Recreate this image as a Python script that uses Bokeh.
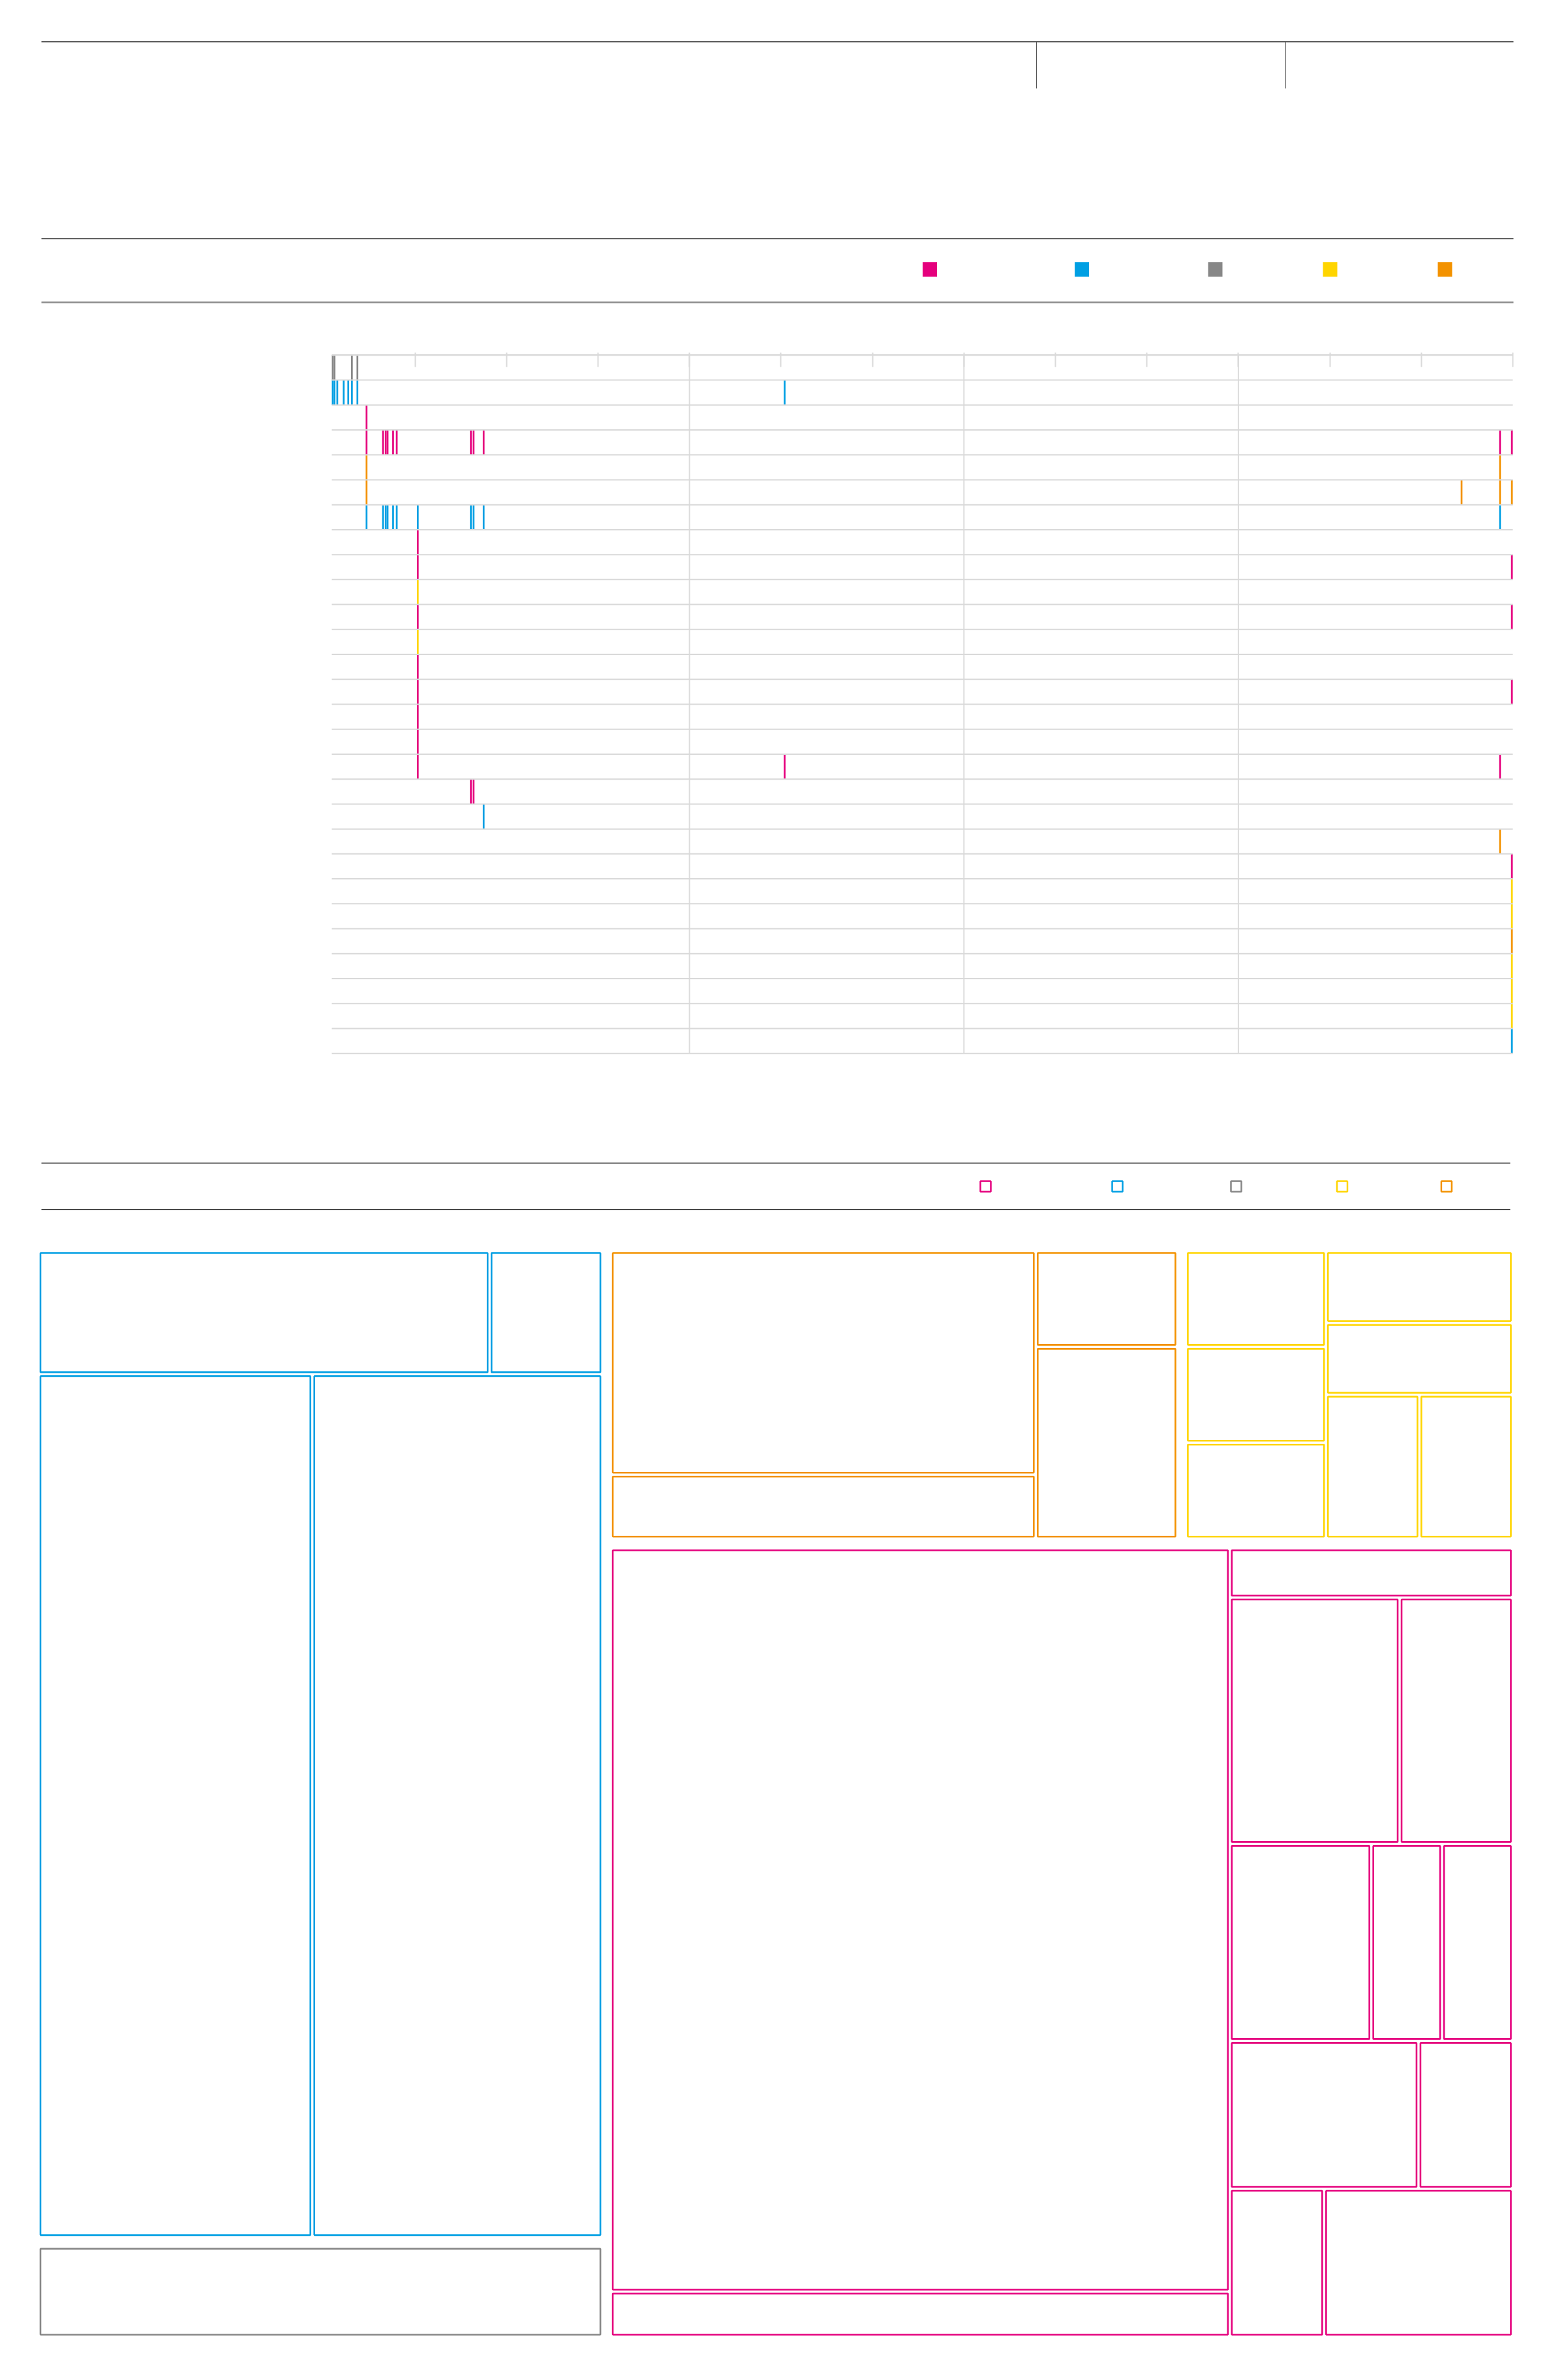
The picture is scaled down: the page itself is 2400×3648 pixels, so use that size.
from bokeh.plotting import figure
from bokeh.models import Range1d, LinearAxis, FixedTicker, ColumnDataSource
from bokeh.layouts import column
from bokeh.embed import file_html
from bokeh.resources import INLINE

# ---------------- data ----------------
categories = ["magenta", "blue", "grey", "yellow", "orange"]
category_colors = ["#E5007D", "#009FE3", "#878787", "#FFD500", "#F39200"]

# timeline: one entry per row (top to bottom), category + event years
row_category = [
    "grey", "blue", "magenta", "magenta", "orange", "orange", "blue",
    "magenta", "magenta", "yellow", "magenta", "yellow", "magenta", "magenta",
    "magenta", "magenta", "magenta", "magenta", "blue", "orange", "magenta",
    "yellow", "yellow", "orange", "yellow", "yellow", "yellow", "blue",
]
row_events = [
    [1891.0, 1891.2, 1893.1, 1893.7],
    [1891.0, 1891.2, 1891.5, 1892.2, 1892.7, 1893.1, 1893.7, 1940.4],
    [1894.7],
    [1894.7, 1896.5, 1896.8, 1897.0, 1897.6, 1898.0, 1906.1, 1906.4, 1907.5, 2018.6, 2019.9],
    [1894.7, 2018.6],
    [1894.7, 2014.4, 2018.6, 2019.9],
    [1894.7, 1896.5, 1896.8, 1897.0, 1897.6, 1898.0, 1900.3, 1906.1, 1906.4, 1907.5, 2018.6],
    [1900.3],
    [1900.3, 2019.9],
    [1900.3],
    [1900.3, 2019.9],
    [1900.3],
    [1900.3],
    [1900.3, 2019.9],
    [1900.3],
    [1900.3],
    [1900.3, 1940.4, 2018.6],
    [1906.1, 1906.4],
    [1907.5],
    [2018.6],
    [2019.9],
    [2019.9],
    [2019.9],
    [2019.9],
    [2019.9],
    [2019.9],
    [2019.9],
    [2019.9],
]
year_start, year_end = 1890.9, 2020
tick_years = [1900, 1910, 1920, 1930, 1940, 1950, 1960, 1970, 1980, 1990, 2000, 2010, 2020]
grid_years = [1930, 1960, 1990]

# treemap leaf values per category
blue_values = [4, 1, 17, 18]
grey_values = [4]
orange_values = [7, 2, 1, 2]
yellow_values = [1, 1, 1, 1, 1, 1, 1]
magenta_values = [33, 2, 1, 3, 2, 2, 1, 1, 2, 1, 1, 2]

color_of = dict(zip(categories, category_colors))

# ---------------- layout constants (page pixels) ----------------
W = 2400
TL_LEFT, TL_RIGHT = 508, 2318        # timeline plot area, horizontally
ROW_PAD = 0.1                         # extra rows above/below so edge lines are not clipped


def blank_fig(height, y_top, y_bottom):
    p = figure(width=W, height=height, x_range=Range1d(0, W), y_range=Range1d(y_bottom, y_top),
               x_axis_type=None, y_axis_type=None, toolbar_location=None,
               output_backend="svg", min_border=0, outline_line_color=None)
    p.background_fill_color = "white"
    p.border_fill_color = "white"
    return p


# ---------------- header / legend ----------------
p1 = blank_fig(500, 0, 500)
p1.segment(x0=[63], y0=[63.5], x1=[2319], y1=[63.5], line_color="#5a5a5a", line_width=1.8)
p1.segment(x0=[1588, 1970], y0=[64, 64], x1=[1588, 1970], y1=[135, 135], line_color="#555555", line_width=1)
p1.segment(x0=[63], y0=[365.3], x1=[2319], y1=[365.3], line_color="#555555", line_width=1.5)
p1.segment(x0=[63], y0=[463], x1=[2319], y1=[463], line_color="#8c8c8c", line_width=2.5)
legend_x = [1424.5, 1657.6, 1862, 2038, 2214]
p1.scatter(x=legend_x, y=[412.5] * len(categories), marker="square", size=22,
           fill_color=category_colors, line_color=None)

# ---------------- timeline ----------------
n_rows = len(row_category)
ppy = (TL_RIGHT - TL_LEFT) / (year_end - year_start)
p2 = figure(width=W, height=1200,
            x_range=Range1d(year_start - TL_LEFT / ppy, year_end + (W - TL_RIGHT) / ppy),
            y_range=Range1d(n_rows + ROW_PAD, -ROW_PAD),
            x_axis_type=None, y_axis_type=None, toolbar_location=None, output_backend="svg",
            min_border_left=0, min_border_right=0, min_border_top=40, min_border_bottom=82,
            outline_line_color=None)
p2.background_fill_color = "white"
p2.border_fill_color = "white"

# vertical major grid lines
p2.segment(x0=grid_years, y0=[0] * len(grid_years), x1=grid_years, y1=[n_rows] * len(grid_years),
           line_color="#dcdcdc", line_width=2)

xs, y0s, y1s, cols = [], [], [], []
for r, (cat, evs) in enumerate(zip(row_category, row_events)):
    for e in evs:
        xs.append(e)
        y0s.append(r)
        y1s.append(r + 1)
        cols.append(color_of[cat])
src = ColumnDataSource(dict(x=xs, y0=y0s, y1=y1s, color=cols))
p2.segment(x0="x", y0="y0", x1="x", y1="y1", line_color="color", line_width=2.7, source=src)

# row separators (drawn over the marks) and top axis line
rb = list(range(1, n_rows + 1))
p2.segment(x0=[year_start] * n_rows, y0=rb, x1=[year_end] * n_rows, y1=rb,
           line_color="#d9d9d9", line_width=2)
p2.segment(x0=[year_start], y0=[0], x1=[year_end], y1=[0], line_color="#dadada", line_width=2.5)

top_axis = LinearAxis(ticker=FixedTicker(ticks=tick_years),
                      axis_line_color=None,
                      major_tick_line_color="#dadada", major_tick_line_width=2,
                      major_tick_in=22, major_tick_out=0,
                      minor_tick_line_color=None,
                      major_label_overrides={t: "" for t in tick_years},
                      major_label_text_alpha=0, major_label_text_font_size="1px",
                      major_label_standoff=0)
p2.add_layout(top_axis, "above")

# ---------------- treemap ----------------
p3 = blank_fig(1948, 1700, 3648)
p3.segment(x0=[63, 63], y0=[1782.3, 1853.3], x1=[2314, 2314], y1=[1782.3, 1853.3],
           line_color="#222222", line_width=1.5)
legend2_x = [1510, 1712, 1894, 2056.5, 2216.4]
p3.scatter(x=legend2_x, y=[1818] * len(categories), marker="square", size=16,
           fill_color="white", line_color=category_colors, line_width=2.5)

values = {"blue": blue_values, "grey": grey_values, "orange": orange_values,
          "yellow": yellow_values, "magenta": magenta_values}


def lf(g, i):
    return ("leaf", g, i)


o, y, m = "orange", "yellow", "magenta"
tree = ("h", 19, [
    ("v", 21, [
        ("v", 6, [("h", 6, [lf("blue", 0), lf("blue", 1)]),
                  ("h", 6, [lf("blue", 2), lf("blue", 3)])]),
        lf("grey", 0),
    ]),
    ("v", 21, [
        ("h", 19, [
            ("h", 6, [("v", 6, [lf(o, 0), lf(o, 1)]), ("v", 6, [lf(o, 2), lf(o, 3)])]),
            ("h", 6, [("v", 6, [lf(y, 0), lf(y, 1), lf(y, 2)]),
                      ("v", 6, [lf(y, 3), lf(y, 4), ("h", 6, [lf(y, 5), lf(y, 6)])])]),
        ]),
        ("h", 6, [
            ("v", 6, [lf(m, 0), lf(m, 1)]),
            ("v", 6, [lf(m, 2), ("h", 6, [lf(m, 3), lf(m, 4)]),
                      ("h", 6, [lf(m, 5), lf(m, 6), lf(m, 7)]),
                      ("h", 6, [lf(m, 8), lf(m, 9)]),
                      ("h", 6, [lf(m, 10), lf(m, 11)])]),
        ]),
    ]),
])


def total(node):
    if node[0] == "leaf":
        return values[node[1]][node[2]]
    return sum(total(c) for c in node[2])


cells = []


def layout(node, x0, y0, x1, y1):
    if node[0] == "leaf":
        cells.append((node[1], x0, y0, x1, y1))
        return
    d, g, kids = node
    h = g / 2.0
    ex0, ey0, ex1, ey1 = x0 - h, y0 - h, x1 + h, y1 + h
    tot = float(sum(total(k) for k in kids))
    pos = ex0 if d == "h" else ey0
    span = (ex1 - ex0) if d == "h" else (ey1 - ey0)
    for k in kids:
        ln = span * total(k) / tot
        if d == "h":
            cx0, cx1, cy0, cy1 = pos, pos + ln, ey0, ey1
        else:
            cx0, cx1, cy0, cy1 = ex0, ex1, pos, pos + ln
        pos += ln
        layout(k, cx0 + h, cy0 + h, cx1 - h, cy1 - h)


layout(tree, 61.5, 1920, 2315, 3578)
tm = ColumnDataSource(dict(
    left=[c[1] for c in cells], right=[c[3] for c in cells],
    top=[c[2] for c in cells], bottom=[c[4] for c in cells],
    color=[color_of[c[0]] for c in cells]))
p3.quad(left="left", right="right", top="top", bottom="bottom", source=tm,
        fill_color="white", line_color="color", line_width=2.6)

page = column(p1, p2, p3, spacing=0)
open("out.html", "w").write(file_html(page, INLINE))
